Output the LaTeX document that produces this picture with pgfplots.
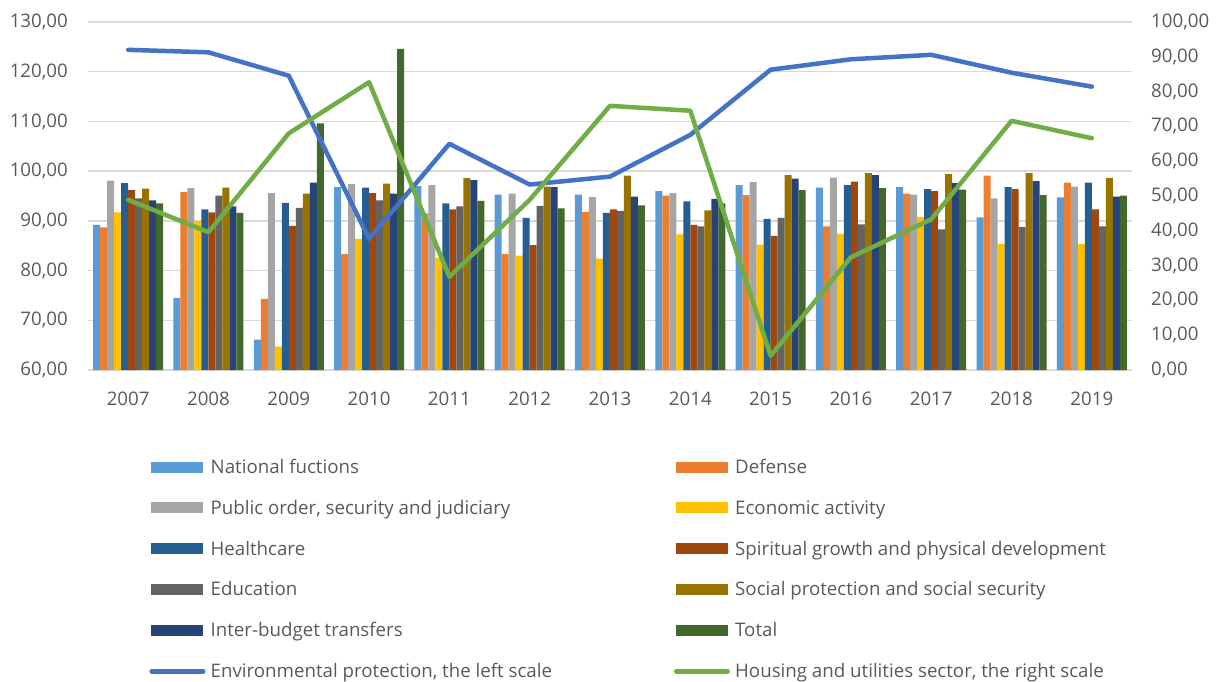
\documentclass[border=0pt]{standalone}
\usepackage{fontspec}
\setmainfont{Open Sans}
\usepackage{pgfplots}
\pgfplotsset{compat=1.18}
\usepackage{pgfplotstable}
\definecolor{c1}{HTML}{5B9BD5}
\definecolor{c2}{HTML}{ED7D31}
\definecolor{c3}{HTML}{A5A5A5}
\definecolor{c4}{HTML}{FFC000}
\definecolor{c5}{HTML}{4472C4}
\definecolor{c6}{HTML}{70AD47}
\definecolor{c7}{HTML}{255E91}
\definecolor{c8}{HTML}{9E480E}
\definecolor{c9}{HTML}{636363}
\definecolor{c10}{HTML}{997300}
\definecolor{c11}{HTML}{264478}
\definecolor{c12}{HTML}{43682B}
\definecolor{txt}{HTML}{595959}
\definecolor{gridc}{HTML}{D9D9D9}

\pgfplotstableread{
x n d p e h s ed so ib t env hou
0 89.2 88.7 98.1 91.7 97.6 96.2 94.5 96.5 94.1 93.5 124.4 48.9
1 74.5 95.8 96.6 90.0 92.3 91.7 95.1 96.7 92.9 91.6 123.9 39.6
2 66.1 74.3 95.6 64.7 93.6 89.0 92.6 95.5 97.7 109.6 119.2 68.0
3 96.8 83.3 97.4 86.4 96.7 95.6 94.1 97.5 95.5 124.6 86.4 82.7
4 97.0 91.5 97.2 82.6 93.5 92.3 92.9 98.6 98.2 94.0 105.5 26.8
5 95.3 83.3 95.5 83.0 90.6 85.1 93.0 96.9 96.8 92.5 97.3 48.9
6 95.3 91.8 94.8 82.4 91.6 92.3 92.0 99.1 94.9 93.1 98.9 75.9
7 96.0 95.1 95.6 87.3 93.9 89.2 88.9 92.1 94.4 93.5 107.3 74.5
8 97.2 95.2 97.8 85.2 90.4 87.0 90.6 99.2 98.5 96.2 120.4 4.1
9 96.7 88.9 98.7 87.4 97.2 97.9 89.3 99.6 99.2 96.6 122.5 32.4
10 96.8 95.5 95.3 90.8 96.4 96.0 88.3 99.4 97.6 96.3 123.4 43.3
11 90.7 99.1 94.5 85.3 96.8 96.4 88.8 99.6 98.0 95.2 119.8 71.6
12 94.7 97.7 96.9 85.3 97.7 92.3 88.9 98.6 94.9 95.1 117.0 66.6
}\data

\newcommand\fs{\fontsize{18.7bp}{22bp}\selectfont}
\newcommand\cA[1]{\makebox[461bp][l]{#1}}

\pgfplotsset{
  base/.style={scale only axis, width=1044bp, height=348bp,
    xmin=-0.5, xmax=12.5, ymin=60, ymax=130,
    axis line style={draw=none}, major tick length=0pt},
  barleg/.style={legend image code/.code={\fill[##1] (2bp,-5.5bp) rectangle (54bp,5.5bp); \path (0bp,0bp) (56bp,0bp);}},
  linleg/.style={legend image code/.code={\draw[##1] (2.25bp,0bp) -- (53.75bp,0bp); \path (0bp,0bp) (56bp,0bp);}},
  numfmt/.style={/pgf/number format/fixed, /pgf/number format/fixed zerofill,
    /pgf/number format/precision=2, /pgf/number format/use comma,
    /pgf/number format/assume math mode=true},
}

\begin{document}
\begin{tikzpicture}
\begin{axis}[base,
  ybar=0pt, bar width=7bp,
  ymajorgrids, grid style={draw=gridc, line width=1.3bp},
  ytick={60,70,...,130},
  xtick={0,...,12},
  xticklabels={2007,2008,2009,2010,2011,2012,2013,2014,2015,2016,2017,2018,2019},
  yticklabel style={numfmt},
  tick label style={font=\fs, text=txt, inner sep=0pt},
  yticklabel style={xshift=-20bp},
  xticklabel style={yshift=-22bp},
  legend columns=2, legend cell align=left,
  legend style={draw=none, fill=none, font=\fs, text=txt, inner sep=0pt,
    at={(0,0)}, anchor=north west, xshift=59bp, yshift=-89bp,
    nodes={inner sep=0pt}, row sep=25.1bp,
    /tikz/every odd column/.append style={column sep=3bp},
    /tikz/every even column/.append style={column sep=0pt}},
]
\coordinate (bl) at (rel axis cs:0,0);
\addplot[fill=c1, draw=none, barleg] table[x=x,y=n]{\data};
\addlegendentry{\cA{National fuctions}}
\addplot[fill=c2, draw=none, barleg] table[x=x,y=d]{\data};
\addlegendentry{Defense}
\addplot[fill=c3, draw=none, barleg] table[x=x,y=p]{\data};
\addlegendentry{\cA{Public order, security and judiciary}}
\addplot[fill=c4, draw=none, barleg] table[x=x,y=e]{\data};
\addlegendentry{Economic activity}
\addplot[fill=c7, draw=none, barleg] table[x=x,y=h]{\data};
\addlegendentry{\cA{Healthcare}}
\addplot[fill=c8, draw=none, barleg] table[x=x,y=s]{\data};
\addlegendentry{Spiritual growth and physical development}
\addplot[fill=c9, draw=none, barleg] table[x=x,y=ed]{\data};
\addlegendentry{\cA{Education}}
\addplot[fill=c10, draw=none, barleg] table[x=x,y=so]{\data};
\addlegendentry{Social protection and social security}
\addplot[fill=c11, draw=none, barleg] table[x=x,y=ib]{\data};
\addlegendentry{\cA{Inter-budget transfers}}
\addplot[fill=c12, draw=none, barleg] table[x=x,y=t]{\data};
\addlegendentry{Total}
\addlegendimage{linleg, draw=c5, line width=4.5bp, line cap=round}
\addlegendentry{\cA{Environmental protection, the left scale}}
\addlegendimage{linleg, draw=c6, line width=4.5bp, line cap=round}
\addlegendentry{Housing and utilities sector, the right scale}
\end{axis}
\begin{axis}[base, hide axis]
\addplot[c5, line width=4.5bp, line cap=round, line join=round, mark=none] table[x=x,y=env]{\data};
\end{axis}
\begin{axis}[base, ymin=0, ymax=100,
  axis x line=none, axis y line*=right,
  ytick={0,10,...,100},
  yticklabel style={numfmt},
  tick label style={font=\fs, text=txt, inner sep=0pt},
  yticklabel style={xshift=19bp},
]
\addplot[c6, line width=4.5bp, line cap=round, line join=round, mark=none] table[x=x,y=hou]{\data};
\end{axis}
\pgfresetboundingbox
\path[use as bounding box] ([shift={(-88bp,-312bp)}]bl) rectangle ([shift={(1130bp,370bp)}]bl);
\end{tikzpicture}
\end{document}
